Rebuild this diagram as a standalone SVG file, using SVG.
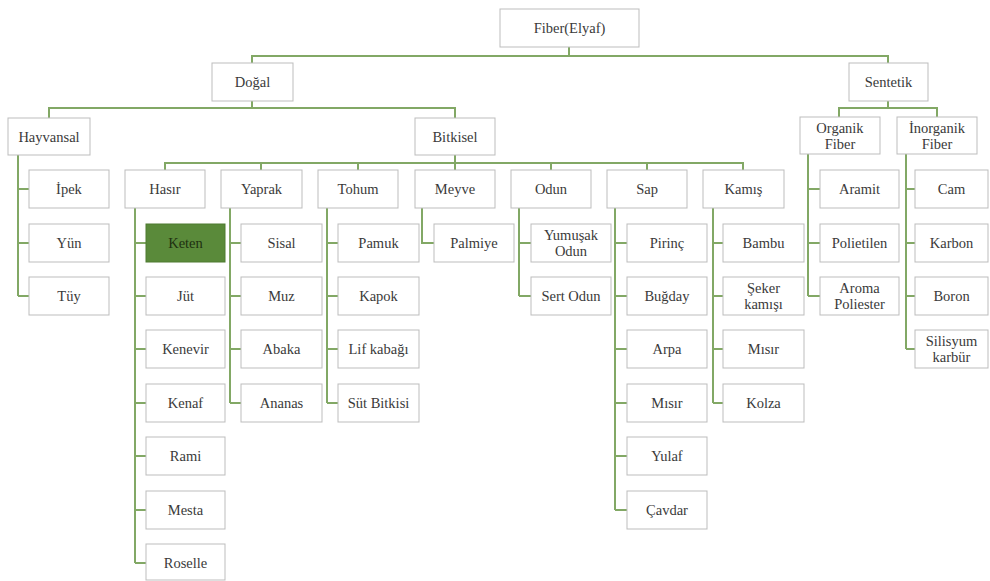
<svg xmlns="http://www.w3.org/2000/svg" width="990" height="581" viewBox="0 0 990 581">
<style>
.n rect{fill:#ffffff;stroke:#bdbdbd;stroke-width:1}
.n text{font-size:14.5px;fill:#3a3a3a;text-anchor:middle;dominant-baseline:central}
.hl rect{fill:#5a8a3a;stroke:#4e7a30}
.hl text{fill:#1e3010}
.c path{fill:none;stroke:#82a865;stroke-width:2}
</style>
<rect width="990" height="581" fill="#ffffff"/>
<g class="c" id="connectors">
<path d="M569,47V56M252,63V56H888V63"/>
<path d="M252,101V108M49,118V108H455V118"/>
<path d="M888,101V108M839,117V108H937V117"/>
<path d="M18,155V296M18,189H29M18,243H29M18,296H29"/>
<path d="M455,155V163M165,170V163H743V170M261,163V170M358,163V170M455,163V170M551,163V170M647,163V170"/>
<path d="M135,208V563M135,243H146M135,296H146M135,349H146M135,403H146M135,456H146M135,510H146M135,563H146"/>
<path d="M230,208V403M230,243H241M230,296H241M230,349H241M230,403H241"/>
<path d="M327,208V403M327,243H338M327,296H338M327,349H338M327,403H338"/>
<path d="M422,208V243H434"/>
<path d="M519,208V296M519,243H531M519,296H531"/>
<path d="M615,208V510M615,243H627M615,296H627M615,349H627M615,403H627M615,456H627M615,510H627"/>
<path d="M713,208V403M713,243H723M713,296H723M713,349H723M713,403H723"/>
<path d="M808,154V296M808,189H820M808,243H820M808,296H820"/>
<path d="M906,154V349M906,189H915M906,243H915M906,296H915M906,349H915"/>
</g>
<g id="nodes" font-family="Liberation Serif, DejaVu Serif, serif">
<g class="n" id="fiber"><rect x="500" y="9" width="139" height="38"/><text x="569.5" y="28">Fiber(Elyaf)</text></g>
<g class="n" id="dogal"><rect x="212" y="63" width="81" height="38"/><text x="252.5" y="82">Doğal</text></g>
<g class="n" id="sentetik"><rect x="849" y="63" width="79" height="38"/><text x="888.5" y="82">Sentetik</text></g>
<g class="n" id="hayvansal"><rect x="8" y="118" width="82" height="37"/><text x="49" y="136.5">Hayvansal</text></g>
<g class="n" id="bitkisel"><rect x="415" y="118" width="80" height="37"/><text x="455" y="136.5">Bitkisel</text></g>
<g class="n" id="organik"><rect x="800" y="117" width="80" height="37"/><text x="840" y="128">Organik</text><text x="840" y="144">Fiber</text></g>
<g class="n" id="inorganik"><rect x="897" y="117" width="80" height="37"/><text x="937" y="128">İnorganik</text><text x="937" y="144">Fiber</text></g>
<g class="n" id="ipek"><rect x="29" y="170" width="80" height="38"/><text x="69" y="189">İpek</text></g>
<g class="n" id="yun"><rect x="29" y="224" width="80" height="38"/><text x="69" y="243">Yün</text></g>
<g class="n" id="tuy"><rect x="29" y="277" width="80" height="38"/><text x="69" y="296">Tüy</text></g>
<g class="n" id="hasir"><rect x="125" y="170" width="80" height="38"/><text x="165" y="189">Hasır</text></g>
<g class="n" id="yaprak"><rect x="221" y="170" width="81" height="38"/><text x="261.5" y="189">Yaprak</text></g>
<g class="n" id="tohum"><rect x="318" y="170" width="80" height="38"/><text x="358" y="189">Tohum</text></g>
<g class="n" id="meyve"><rect x="415" y="170" width="80" height="38"/><text x="455" y="189">Meyve</text></g>
<g class="n" id="odun"><rect x="511" y="170" width="80" height="38"/><text x="551" y="189">Odun</text></g>
<g class="n" id="sap"><rect x="607" y="170" width="80" height="38"/><text x="647" y="189">Sap</text></g>
<g class="n" id="kamis"><rect x="703" y="170" width="81" height="38"/><text x="743.5" y="189">Kamış</text></g>
<g class="n hl" id="keten"><rect x="146" y="224" width="79" height="38"/><text x="185.5" y="243">Keten</text></g>
<g class="n" id="jut"><rect x="146" y="277" width="79" height="38"/><text x="185.5" y="296">Jüt</text></g>
<g class="n" id="kenevir"><rect x="146" y="330" width="79" height="38"/><text x="185.5" y="349">Kenevir</text></g>
<g class="n" id="kenaf"><rect x="146" y="384" width="79" height="38"/><text x="185.5" y="403">Kenaf</text></g>
<g class="n" id="rami"><rect x="146" y="437" width="79" height="38"/><text x="185.5" y="456">Rami</text></g>
<g class="n" id="mesta"><rect x="146" y="491" width="79" height="38"/><text x="185.5" y="510">Mesta</text></g>
<g class="n" id="roselle"><rect x="146" y="544" width="79" height="36"/><text x="185.5" y="563">Roselle</text></g>
<g class="n" id="sisal"><rect x="241" y="224" width="81" height="38"/><text x="281.5" y="243">Sisal</text></g>
<g class="n" id="muz"><rect x="241" y="277" width="81" height="38"/><text x="281.5" y="296">Muz</text></g>
<g class="n" id="abaka"><rect x="241" y="330" width="81" height="38"/><text x="281.5" y="349">Abaka</text></g>
<g class="n" id="ananas"><rect x="241" y="384" width="81" height="38"/><text x="281.5" y="403">Ananas</text></g>
<g class="n" id="pamuk"><rect x="338" y="224" width="81" height="38"/><text x="378.5" y="243">Pamuk</text></g>
<g class="n" id="kapok"><rect x="338" y="277" width="81" height="38"/><text x="378.5" y="296">Kapok</text></g>
<g class="n" id="lif"><rect x="338" y="330" width="81" height="38"/><text x="378.5" y="349">Lif kabağı</text></g>
<g class="n" id="sut"><rect x="338" y="384" width="81" height="38"/><text x="378.5" y="403">Süt Bitkisi</text></g>
<g class="n" id="palmiye"><rect x="434" y="224" width="80" height="38"/><text x="474" y="243">Palmiye</text></g>
<g class="n" id="yumusak"><rect x="531" y="224" width="80" height="38"/><text x="571" y="235">Yumuşak</text><text x="571" y="251">Odun</text></g>
<g class="n" id="sert"><rect x="531" y="277" width="80" height="38"/><text x="571" y="296">Sert Odun</text></g>
<g class="n" id="pirinc"><rect x="627" y="224" width="80" height="38"/><text x="667" y="243">Pirinç</text></g>
<g class="n" id="bugday"><rect x="627" y="277" width="80" height="38"/><text x="667" y="296">Buğday</text></g>
<g class="n" id="arpa"><rect x="627" y="330" width="80" height="38"/><text x="667" y="349">Arpa</text></g>
<g class="n" id="misir1"><rect x="627" y="384" width="80" height="38"/><text x="667" y="403">Mısır</text></g>
<g class="n" id="yulaf"><rect x="627" y="437" width="80" height="38"/><text x="667" y="456">Yulaf</text></g>
<g class="n" id="cavdar"><rect x="627" y="491" width="80" height="38"/><text x="667" y="510">Çavdar</text></g>
<g class="n" id="bambu"><rect x="723" y="224" width="81" height="38"/><text x="763.5" y="243">Bambu</text></g>
<g class="n" id="seker"><rect x="723" y="277" width="81" height="38"/><text x="763.5" y="288">Şeker</text><text x="763.5" y="304">kamışı</text></g>
<g class="n" id="misir2"><rect x="723" y="330" width="81" height="38"/><text x="763.5" y="349">Mısır</text></g>
<g class="n" id="kolza"><rect x="723" y="384" width="81" height="38"/><text x="763.5" y="403">Kolza</text></g>
<g class="n" id="aramit"><rect x="820" y="170" width="79" height="38"/><text x="859.5" y="189">Aramit</text></g>
<g class="n" id="polietilen"><rect x="820" y="224" width="79" height="38"/><text x="859.5" y="243">Polietilen</text></g>
<g class="n" id="aroma"><rect x="820" y="277" width="79" height="38"/><text x="859.5" y="288">Aroma</text><text x="859.5" y="304">Poliester</text></g>
<g class="n" id="cam"><rect x="915" y="170" width="73" height="38"/><text x="951.5" y="189">Cam</text></g>
<g class="n" id="karbon"><rect x="915" y="224" width="73" height="38"/><text x="951.5" y="243">Karbon</text></g>
<g class="n" id="boron"><rect x="915" y="277" width="73" height="38"/><text x="951.5" y="296">Boron</text></g>
<g class="n" id="silisyum"><rect x="915" y="330" width="73" height="38"/><text x="951.5" y="341">Silisyum</text><text x="951.5" y="357">karbür</text></g>
</g>
</svg>
